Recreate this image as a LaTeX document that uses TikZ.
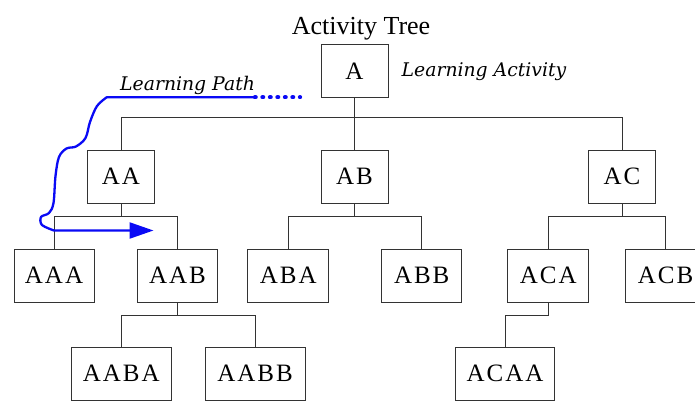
\documentclass[tikz,border=0pt]{standalone}
\usepackage{fontspec}
\setmainfont{Liberation Serif}
\newfontfamily\boxfont[LetterSpace=8]{Liberation Serif}
\newfontfamily\notefont{DejaVu Serif}
\usetikzlibrary{arrows.meta}
\definecolor{treeline}{HTML}{333333}
\definecolor{pathblue}{RGB}{10,10,245}
\tikzset{
  act/.style={draw=treeline, line width=1pt, rectangle, inner sep=0pt,
    minimum height=53pt, font=\boxfont\fontsize{25}{27}\selectfont},
  lvone/.style={act, minimum width=67pt},
  lvtwo/.style={act, minimum width=80pt},
  lvthree/.style={act, minimum width=100pt},
  link/.style={draw=treeline, line width=1pt},
  note/.style={font=\notefont\itshape\fontsize{18.8}{21}\selectfont, inner sep=0pt, anchor=base west},
  lpath/.style={draw=pathblue, line width=2.3pt, line join=round, line cap=round},
}
\begin{document}
\begin{tikzpicture}[x=1pt, y=-1pt]
  \useasboundingbox (0,0) rectangle (695,401);
  \fill[white] (0,0) rectangle (695,401);

  % title and notes
  \node[font=\fontsize{26}{28}\selectfont, inner sep=0pt, anchor=base] (title) at (361,35) {Activity Tree};
  \node[note] (lblact) at (401.5,76.5) {Learning Activity};
  \node[note] (lblpath) at (120,90.5) {Learning Path};

  % activities
  \node[lvone] (A)  at (354.5,71.5) {A};
  \node[lvone] (AA) at (121,176.5) {AA};
  \node[lvone] (AB) at (354.5,176.5) {AB};
  \node[lvone] (AC) at (622,176.5) {AC};

  \node[lvtwo] (AAA) at (54,275.5) {AAA};
  \node[lvtwo] (AAB) at (177.5,275.5) {AAB};
  \node[lvtwo, minimum width=81pt] (ABA) at (288.3,275.5) {ABA};
  \node[lvtwo] (ABB) at (421.7,275.5) {ABB};
  \node[lvtwo, minimum width=81pt] (ACA) at (548.3,275.5) {ACA};
  \node[lvtwo] (ACB) at (665.5,275.5) {ACB};

  \node[lvthree] (AABA) at (121.2,373.7) {AABA};
  \node[lvthree] (AABB) at (255,373.7) {AABB};
  \node[lvthree, minimum width=99pt] (ACAA) at (505,373.7) {ACAA};

  % tree connectors
  \draw[link] (A.south) -- (A.south |- 0,117);
  \draw[link] (AA.north) -- (AA.north |- 0,117) -| (AC.north);
  \draw[link] (AB.north) -- (AB.north |- 0,117);

  \draw[link] (AA.south) -- (AA.south |- 0,216.7);
  \draw[link] (AAA.north) -- (AAA.north |- 0,216.7) -| (AAB.north);
  \draw[link] (AB.south) -- (AB.south |- 0,216.7);
  \draw[link] (ABA.north) -- (ABA.north |- 0,216.7) -| (ABB.north);
  \draw[link] (AC.south) -- (AC.south |- 0,216.7);
  \draw[link] (ACA.north) -- (ACA.north |- 0,216.7) -| (ACB.north);

  \draw[link] (AAB.south) -- (AAB.south |- 0,315);
  \draw[link] (AABA.north) -- (AABA.north |- 0,315) -| (AABB.north);
  \draw[link] (ACA.south) -- (ACA.south |- 0,315) -| (ACAA.north);

  % learning path
  \coordinate (pjoin) at (255,97.3);
  \coordinate (pend) at (300,97.3);
  \coordinate (ptip) at (153.5,230.5);
  \draw[lpath, line width=4.4pt, dash pattern=on 0.6pt off 6.9pt] (pjoin) -- (pend);
  \draw[lpath, -{Triangle[length=24pt, width=16pt]}] (pjoin) -- (106.7,97.3)
    -- plot[smooth, tension=0.55] coordinates {(106.7,97.3) (97,106) (90,122) (85.5,138)
      (76,146.5) (66.5,148.5) (59,157) (55.5,176) (53.5,203) (49,213) (41,217)
      (42,225) (54,230.5)}
    -- (ptip);
\end{tikzpicture}
\end{document}
